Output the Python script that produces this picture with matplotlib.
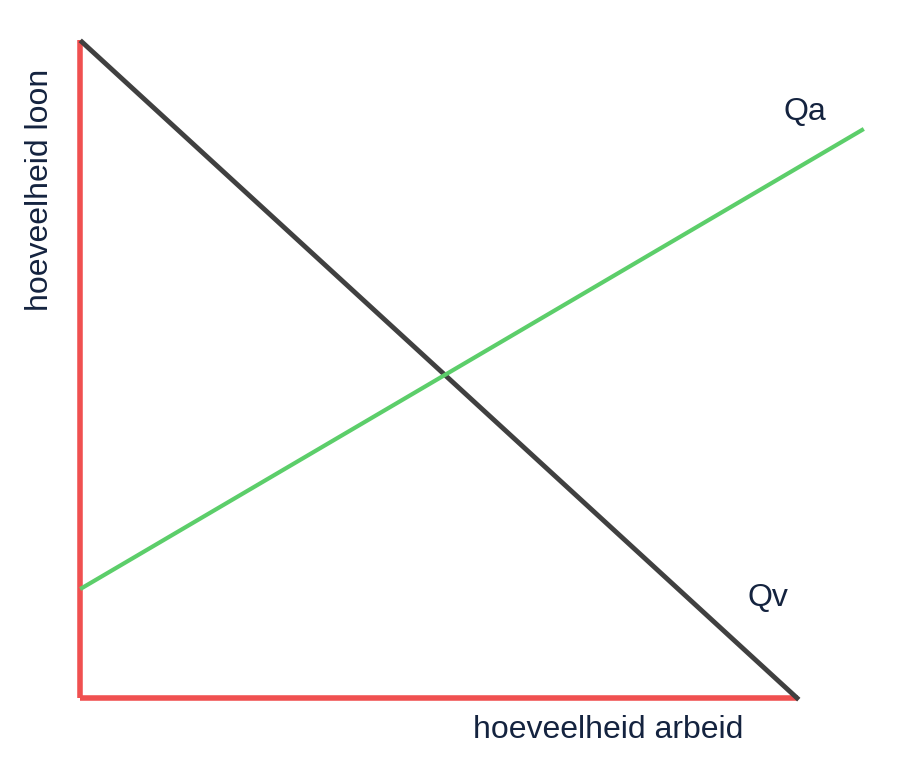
import matplotlib
matplotlib.use("Agg")
import matplotlib.pyplot as plt

# data in pixel-like coordinates (x right, y down)
demand_x = [82, 797]
demand_y = [42, 698]
supply_x = [82, 862]
supply_y = [588, 130]
yaxis_x = [80, 80]
yaxis_y = [40, 698]
xaxis_x = [80, 798]
xaxis_y = [698, 698]

fig = plt.figure(figsize=(9.01, 7.75), dpi=100)
ax = fig.add_axes([0, 0, 1, 1])
ax.set_xlim(0, 901)
ax.set_ylim(775, 0)
ax.axis("off")

ax.plot(yaxis_x, yaxis_y, color="#f05050", lw=4, solid_capstyle="butt")
ax.plot(xaxis_x, xaxis_y, color="#f05050", lw=4, solid_capstyle="butt")
ax.plot(demand_x, demand_y, color="#404040", lw=3.5)
ax.plot(supply_x, supply_y, color="#5cce6a", lw=3)

tc = "#14233f"
fs = 23
fam = "Liberation Sans"
ax.text(805, 112, "Qa", color=tc, fontsize=fs, family=fam, ha="center", va="center")
ax.text(768, 598, "Qv", color=tc, fontsize=fs, family=fam, ha="center", va="center")
ax.text(608, 730, "hoeveelheid arbeid", color=tc, fontsize=fs, family=fam, ha="center", va="center")
ax.text(40, 190, "hoeveelheid loon", color=tc, fontsize=fs, family=fam, ha="center", va="center", rotation=90)

fig.savefig("out.png", dpi=100)
